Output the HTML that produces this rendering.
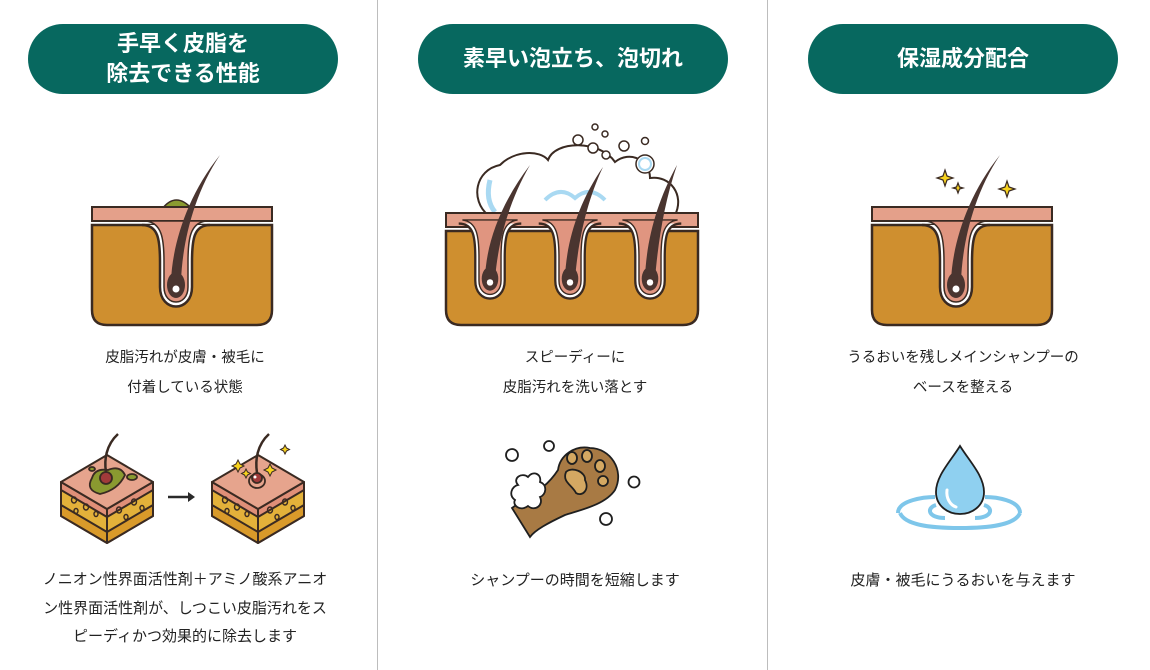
<!DOCTYPE html>
<html><head><meta charset="utf-8">
<style>
html,body{margin:0;padding:0;background:#fff;}
body{width:1150px;height:670px;position:relative;overflow:hidden;font-family:"Liberation Sans","Noto Sans CJK JP",sans-serif;color:#222;}
.div{position:absolute;top:0;width:1px;height:670px;background:#bdbdbd;}
.pill{position:absolute;top:24px;width:310px;height:70px;border-radius:35px;background:#07685f;color:#fff;font-weight:bold;font-size:22px;line-height:30px;display:flex;align-items:center;justify-content:center;text-align:center;}
.t{position:absolute;width:370px;text-align:center;font-size:14.5px;line-height:30px;}
svg{position:absolute;left:0;top:0;}
</style></head><body>
<div class="div" style="left:377px"></div>
<div class="div" style="left:767px"></div>
<div class="pill" style="left:28px">手早く皮脂を<br>除去できる性能</div>
<div class="pill" style="left:418px">素早い泡立ち、泡切れ</div>
<div class="pill" style="left:808px">保湿成分配合</div>

<div class="t" style="left:0;top:343px">皮脂汚れが皮膚・被毛に<br>付着している状態</div>
<div class="t" style="left:390px;top:343px">スピーディーに<br>皮脂汚れを洗い落とす</div>
<div class="t" style="left:778px;top:343px">うるおいを残しメインシャンプーの<br>ベースを整える</div>
<div class="t" style="left:0;top:566px;line-height:28.5px;font-size:15px">ノニオン性界面活性剤＋アミノ酸系アニオ<br>ン性界面活性剤が、しつこい皮脂汚れをス<br>ピーディかつ効果的に除去します</div>
<div class="t" style="left:390px;top:566px;font-size:15px">シャンプーの時間を短縮します</div>
<div class="t" style="left:778px;top:566px;font-size:15px">皮膚・被毛にうるおいを与えます</div>

<svg width="1150" height="670" viewBox="0 0 1150 670">
<defs>
<g id="fol">
  <path d="M-34,18 C-18,18 -16,32 -16,55 V80 C-16,106 16,106 16,80 V55 C16,32 18,18 34,18 Z" fill="#fff"/>
  <path d="M-34,18 C-18,18 -16,32 -16,55 V80 C-16,106 16,106 16,80 V55 C16,32 18,18 34,18" fill="none" stroke="#3a2a22" stroke-width="2.5"/>
  <path d="M-30,14 C-14,16 -12,32 -12,55 V80 C-12,100 12,100 12,80 V55 C12,32 14,16 30,14 Z" fill="#e09580" stroke="#3a2a22" stroke-width="1.5"/>
</g>
<g id="hair">
  <ellipse cx="0" cy="78" rx="9" ry="13" fill="#4a3530"/>
  <circle cx="0" cy="82" r="3.5" fill="#fff"/>
</g>
<g id="cube" stroke="#3a2a22" stroke-width="2" stroke-linejoin="round">
  <polygon points="61,482 107,509 153,482 153,516 107,543 61,516" fill="#e3b13a"/>
  <polygon points="61,505 107,532 153,505 153,516 107,543 61,516" fill="#d99a2a"/>
  <polygon points="61,482 107,509 153,482 153,490 107,517 61,490" fill="#e08f78"/>
  <line x1="107" y1="509" x2="107" y2="543"/>
  <polygon points="107,455 153,482 107,509 61,482" fill="#e6a48d"/>
  <g fill="none" stroke-width="1.4">
    <ellipse cx="74" cy="500" rx="2.5" ry="3"/><ellipse cx="86" cy="507" rx="2.5" ry="3"/><ellipse cx="76" cy="511" rx="2" ry="2.5"/><ellipse cx="96" cy="514" rx="2" ry="2.5"/>
    <ellipse cx="119" cy="510" rx="2.5" ry="3"/><ellipse cx="134" cy="502" rx="2.5" ry="3"/><ellipse cx="126" cy="517" rx="2" ry="2.5"/><ellipse cx="142" cy="508" rx="2" ry="2.5"/>
  </g>
</g>
</defs>

<!-- Column 1 skin -->
<g transform="translate(92,207)">
  <path d="M0,18 H180 V103 Q180,118 165,118 H15 Q0,118 0,103 Z" fill="#cf8f2f" stroke="#3a2a22" stroke-width="2.5"/>
  <path d="M70,2 Q84,-16 100,2 Z" fill="#8a9a30" stroke="#3a2a22" stroke-width="1.5"/>
  <rect x="0" y="0" width="180" height="14" fill="#e4a08a" stroke="#3a2a22" stroke-width="2"/>
  <g transform="translate(84,0)"><use href="#fol"/><use href="#hair"/></g>
  <path d="M79,75 C80,40 94,-10 128,-52 C100,-10 90,40 89,75 Z" fill="#4a3530"/>
</g>

<!-- Column 2 foam -->
<g>
  <path d="M488,215 C470,200 475,170 500,165 C515,150 540,150 548,160 C555,140 600,140 615,162 C630,150 650,160 650,178 C670,175 685,195 675,215 Z" fill="#fff" stroke="#3a2a22" stroke-width="2"/>
  <path d="M545,200 Q560,185 575,198 Q590,185 605,200" fill="none" stroke="#a9d9f2" stroke-width="4"/>
  <path d="M490,180 Q485,200 495,212" fill="none" stroke="#a9d9f2" stroke-width="5"/>
  <g fill="#fff" stroke="#3a2a22" stroke-width="1.5">
    <circle cx="578" cy="140" r="5"/><circle cx="593" cy="148" r="5"/><circle cx="606" cy="155" r="4"/>
    <circle cx="595" cy="127" r="3"/><circle cx="605" cy="134" r="3"/><circle cx="624" cy="146" r="5"/>
    <circle cx="645" cy="141" r="3.5"/><circle cx="645" cy="164" r="9"/>
  </g>
  <circle cx="645" cy="164" r="6" fill="none" stroke="#a9d9f2" stroke-width="2"/>
</g>
<!-- Column 2 skin -->
<g transform="translate(446,213)">
  <path d="M0,18 H252 V97 Q252,112 237,112 H15 Q0,112 0,97 Z" fill="#cf8f2f" stroke="#3a2a22" stroke-width="2.5"/>
  <rect x="0" y="0" width="252" height="14" fill="#e4a08a" stroke="#3a2a22" stroke-width="2"/>
  <g transform="translate(44,-6) scale(0.92)"><use href="#fol"/><use href="#hair"/></g>
  <g transform="translate(124,-6) scale(0.92)"><use href="#fol"/><use href="#hair"/></g>
  <g transform="translate(204,-6) scale(0.92)"><use href="#fol"/><use href="#hair"/></g>
  <path d="M39,66 C40,30 55,-10 84,-48 C62,-10 52,30 49,66 Z" fill="#4a3530"/>
  <path d="M119,66 C120,30 132,-10 157,-46 C140,-10 132,30 129,66 Z" fill="#4a3530"/>
  <path d="M199,66 C200,30 210,-10 231,-48 C218,-10 212,30 209,66 Z" fill="#4a3530"/>
</g>

<!-- Column 3 skin -->
<g transform="translate(872,207)">
  <path d="M0,18 H180 V103 Q180,118 165,118 H15 Q0,118 0,103 Z" fill="#cf8f2f" stroke="#3a2a22" stroke-width="2.5"/>
  <rect x="0" y="0" width="180" height="14" fill="#e4a08a" stroke="#3a2a22" stroke-width="2"/>
  <g transform="translate(84,0)"><use href="#fol"/><use href="#hair"/></g>
  <path d="M79,75 C80,40 94,-10 128,-52 C100,-10 90,40 89,75 Z" fill="#4a3530"/>
</g>
<g fill="#f7d21e" stroke="#3a2a22" stroke-width="1.2">
  <path d="M945,170 L947,176 L953,178 L947,180 L945,186 L943,180 L937,178 L943,176 Z"/>
  <path d="M958,183 L959.5,187 L963,188 L959.5,189 L958,193 L956.5,189 L953,188 L956.5,187 Z"/>
  <path d="M1007,181 L1009,187 L1015,189 L1009,191 L1007,197 L1005,191 L999,189 L1005,187 Z"/>
</g>

<!-- Column 1 cubes -->
<use href="#cube"/>
<g stroke="#3a2a22" stroke-width="1.8">
  <path d="M92,478 Q95,468 108,470 Q120,465 125,475 Q118,490 100,494 Q85,490 92,478 Z" fill="#8a9a30"/>
  <ellipse cx="132" cy="477" rx="5" ry="3" fill="#8a9a30"/>
  <ellipse cx="92" cy="469" rx="3" ry="2" fill="#8a9a30"/>
  <circle cx="106" cy="478" r="6" fill="#a03a3a"/>
  <path d="M106,472 C104,460 106,445 118,434" fill="none" stroke-width="2.5"/>
</g>
<use href="#cube" transform="translate(151,0)"/>
<g stroke="#3a2a22" stroke-width="1.8">
  <ellipse cx="257" cy="481" rx="8" ry="7" fill="#e6a48d"/>
  <circle cx="257" cy="478" r="5" fill="#a03a3a"/>
  <circle cx="255" cy="477" r="1.5" fill="#fff" stroke="none"/>
  <path d="M257,473 C255,460 257,445 269,434" fill="none" stroke-width="2.5"/>
</g>
<g fill="#f7d21e" stroke="#3a2a22" stroke-width="1">
  <path d="M238,460 l2,4 4,2 -4,2 -2,4 -2,-4 -4,-2 4,-2 Z"/>
  <path d="M246,469 l1.5,3 3,1.5 -3,1.5 -1.5,3 -1.5,-3 -3,-1.5 3,-1.5 Z"/>
  <path d="M270,464 l2,4 4,2 -4,2 -2,4 -2,-4 -4,-2 4,-2 Z"/>
  <path d="M285,445 l1.5,3 3,1.5 -3,1.5 -1.5,3 -1.5,-3 -3,-1.5 3,-1.5 Z"/>
</g>
<line x1="168" y1="497" x2="192" y2="497" stroke="#2a2a2a" stroke-width="2.5"/>
<path d="M188,492 L195,497 L188,502 Z" fill="#2a2a2a"/>

<!-- Column 2 paw -->
<g stroke="#1f1f1f" stroke-width="1.8">
  <path d="M512,508 C530,495 545,490 558,470 C560,455 575,445 590,448 C610,448 625,470 615,490 C605,505 580,510 565,515 C548,523 535,530 530,537 Z" fill="#a87a44"/>
  <path d="M566,472 C572,466 586,472 585,480 C590,490 582,497 576,493 C572,485 562,482 566,472 Z" fill="#d4a862"/>
  <ellipse cx="572" cy="458" rx="5" ry="6" fill="#d4a862"/>
  <ellipse cx="587" cy="456" rx="5" ry="6" fill="#d4a862"/>
  <ellipse cx="600" cy="466" rx="5" ry="6" fill="#d4a862"/>
  <ellipse cx="603" cy="481" rx="5" ry="5" fill="#d4a862"/>
  <path d="M518,485 C512,478 522,472 528,477 C533,470 542,474 540,482 C548,485 546,495 540,497 C544,505 535,512 528,506 C520,512 512,505 515,500 C508,495 512,486 518,485 Z" fill="#fff"/>
  <g fill="#fff"><circle cx="512" cy="455" r="6"/><circle cx="549" cy="446" r="5"/><circle cx="634" cy="482" r="5.5"/><circle cx="606" cy="519" r="6"/></g>
</g>

<!-- Column 3 drop -->
<g stroke="#1f1f1f" stroke-width="1.8">
  <path d="M898,513 C898,500 925,497 935,497" fill="none" stroke="#7ec6ea" stroke-width="4"/>
  <path d="M1020,513 C1020,500 995,497 985,497" fill="none" stroke="#7ec6ea" stroke-width="4"/>
  <path d="M900,513 C905,525 930,528 960,528 C990,528 1015,525 1020,513" fill="none" stroke="#7ec6ea" stroke-width="4"/>
  <path d="M936,505 C926,508 928,518 945,518" fill="none" stroke="#7ec6ea" stroke-width="4"/>
  <path d="M984,505 C994,508 992,518 975,518" fill="none" stroke="#7ec6ea" stroke-width="4"/>
  <path d="M960,446 C950,462 936,476 936,492 C936,506 948,514 960,514 C972,514 984,506 984,492 C984,476 970,462 960,446 Z" fill="#8fd0f0"/>
  <path d="M947,490 C946,498 950,505 956,507" fill="none" stroke="#fff" stroke-width="3" stroke-linecap="round"/>
</g>
</svg>
</body></html>
